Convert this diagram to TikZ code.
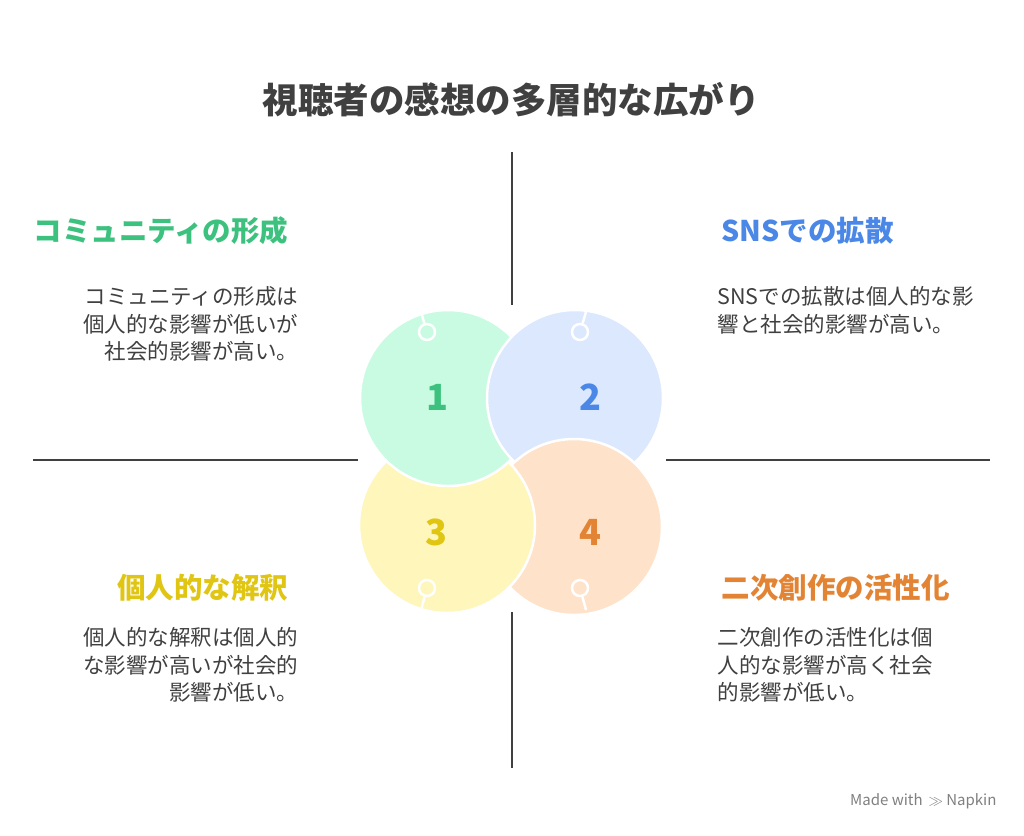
\documentclass[tikz,border=0pt]{standalone}
\usepackage{fontspec}
\setmainfont{Noto Sans CJK JP}
\definecolor{g1}{HTML}{C9FBE3}\definecolor{g2}{HTML}{3CC27E}
\definecolor{bl1}{HTML}{DCE8FE}\definecolor{bl2}{HTML}{4A87E6}
\definecolor{y1}{HTML}{FEF6BA}\definecolor{y2}{HTML}{E0C512}
\definecolor{o1}{HTML}{FEE2CA}\definecolor{o2}{HTML}{E38434}
\definecolor{tx}{HTML}{404040}
\begin{document}
\begin{tikzpicture}[x=1pt,y=-1pt,
  divider/.style={line width=2.5pt,draw=tx},
  blob/.style={circle,minimum size=176pt,draw=white,line width=2.5pt,inner sep=0},
  knob/.style={circle,minimum size=16pt,draw=white,line width=2.5pt,inner sep=0},
  num/.style={font=\fontsize{36}{36}\selectfont\bfseries},
  head/.style={font=\fontsize{28.5}{32}\selectfont\bfseries},
  body/.style={font=\fontsize{21.5}{27.5}\selectfont,text=tx}]
\useasboundingbox (0,0) rectangle (1024,835);
\fill[white] (0,0) rectangle (1024,835);
\node[font=\fontsize{35.5}{40}\selectfont\bfseries,text=tx] (title) at (511,100) {視聴者の感想の多層的な広がり};
\coordinate (t1) at (512,152); \coordinate (t2) at (512,305);
\coordinate (b1) at (512,612); \coordinate (b2) at (512,768);
\coordinate (l1) at (33,460); \coordinate (l2) at (358,460);
\coordinate (r1) at (666,460); \coordinate (r2) at (990,460);
\draw[divider] (t1)--(t2); \draw[divider] (b1)--(b2);
\draw[divider] (l1)--(l2); \draw[divider] (r1)--(r2);
\node[blob,fill=g1] (c1) at (448,398) {};
\node[blob,fill=bl1] (c2) at (575,398) {};
\node[blob,fill=o1] (c4) at (574,527) {};
\node[blob,fill=y1] (c3) at (447,525) {};
\begin{scope}
\clip (447,525) circle (91);
\node[blob,fill=g1] (c1b) at (448,398) {};
\end{scope}
\node[knob] (k1) at (427,332) {}; \coordinate (e1) at (421,312);
\node[knob] (k2) at (580,332) {}; \coordinate (e2) at (586,312);
\node[knob] (k3) at (427,588) {}; \coordinate (e3) at (421,610);
\node[knob] (k4) at (580,588) {}; \coordinate (e4) at (586,610);
\draw[white,line width=2.5pt] (k1)--(e1) (k2)--(e2) (k3)--(e3) (k4)--(e4);
\node[num,text=g2] (n1) at (437,397) {1};
\node[num,text=bl2] (n2) at (590,397) {2};
\node[num,text=y2] (n3) at (436,532) {3};
\node[num,text=o2] (n4) at (590,532) {4};
\node[head,text=g2,anchor=east] (h1) at (292,231) {コミュニティの形成};
\node[head,text=bl2,anchor=west] (h2) at (718,231) {SNSでの拡散};
\node[head,text=y2,anchor=east] (h3) at (292,588) {個人的な解釈};
\node[head,text=o2,anchor=west] (h4) at (718,588) {二次創作の活性化};
\node[body,align=right,anchor=north east] (d1) at (302,283) {コミュニティの形成は\\個人的な影響が低いが\\社会的影響が高い。};
\node[body,align=left,anchor=north west] (d2) at (714,283) {SNSでの拡散は個人的な影\\響と社会的影響が高い。};
\node[body,align=right,anchor=north east] (d3) at (302,624) {個人的な解釈は個人的\\な影響が高いが社会的\\影響が低い。};
\node[body,align=left,anchor=north west] (d4) at (714,624) {二次創作の活性化は個\\人的な影響が高く社会\\的影響が低い。};
\node[font=\fontsize{15}{17}\selectfont,text=black!50,anchor=east] (mw) at (1000,801) {Made with \,$\gg$ Napkin};
\end{tikzpicture}
\end{document}
